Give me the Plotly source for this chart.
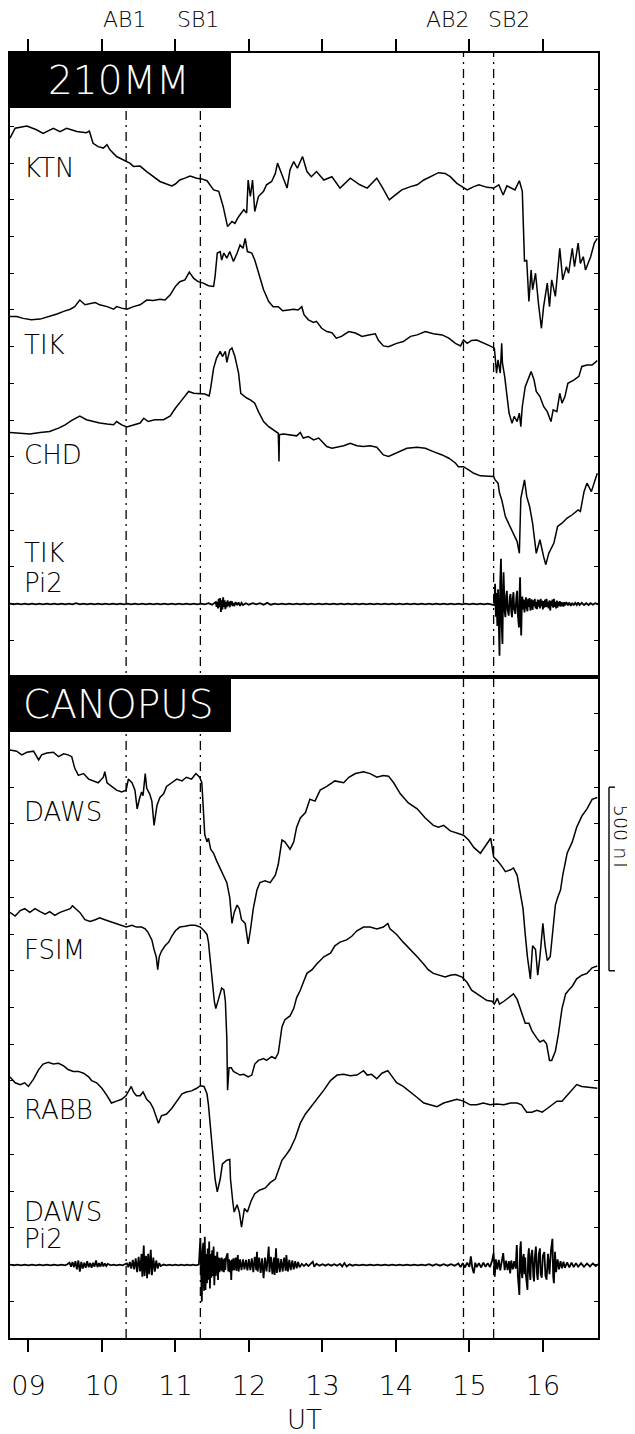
import plotly.graph_objects as go

# ---------------- data (UT hours, nT deflection) ----------------
HOURS = [9, 10, 11, 12, 13, 14, 15, 16]
HOUR_LABELS = ["09", "10", "11", "12", "13", "14", "15", "16"]
EVENT_NAMES = ["AB1", "SB1", "AB2", "SB2"]
EVENT_TIMES = [10.33, 11.34, 14.92, 15.33]

KTN = [(8.75,168),(8.82,195),(8.98,201),(9.11,191),(9.20,181),(9.34,195),(9.43,186),(9.52,195),(9.66,186),(9.79,183),(9.83,187),(9.88,154),(9.95,145),(10.02,141),(10.07,150),(10.11,136),(10.20,118),(10.29,109),(10.38,100),(10.43,91),(10.52,92),(10.61,77),(10.70,63),(10.79,50),(10.88,43),(10.95,38),(11.00,43),(11.06,54),(11.13,59),(11.20,65),(11.29,59),(11.36,57),(11.43,52),(11.52,27),(11.59,23),(11.65,-18),(11.71,-73),(11.77,-59),(11.81,-64),(11.86,-46),(11.93,-27),(11.97,-36),(11.99,54),(12.02,9),(12.05,54),(12.08,-32),(12.13,9),(12.20,23),(12.24,41),(12.31,50),(12.36,72),(12.39,100),(12.45,68),(12.52,32),(12.56,82),(12.61,104),(12.66,86),(12.73,118),(12.79,77),(12.85,63),(12.92,77),(13.02,54),(13.13,63),(13.24,32),(13.38,59),(13.51,41),(13.61,32),(13.74,59),(13.81,36),(13.91,0),(13.99,13),(14.08,27),(14.20,36),(14.29,41),(14.38,54),(14.47,63),(14.58,74),(14.67,72),(14.74,63),(14.83,45),(14.92,32),(14.97,27),(15.06,36),(15.13,41),(15.24,34),(15.33,32),(15.40,41),(15.46,13),(15.51,38),(15.58,32),(15.62,27),(15.68,52),(15.72,23),(15.75,-168),(15.78,-164),(15.81,-277),(15.84,-191),(15.86,-245),(15.90,-200),(15.94,-282),(15.98,-350),(16.01,-291),(16.06,-227),(16.09,-291),(16.12,-218),(16.17,-263),(16.23,-132),(16.27,-218),(16.32,-182),(16.35,-200),(16.40,-132),(16.43,-182),(16.48,-118),(16.51,-173),(16.55,-155),(16.58,-191),(16.65,-155),(16.70,-118),(16.74,-105)]

TIK = [(8.75,82),(8.84,82),(8.93,77),(9.04,73),(9.16,75),(9.29,82),(9.39,89),(9.48,96),(9.57,102),(9.63,109),(9.70,127),(9.77,114),(9.84,118),(9.91,120),(9.97,114),(10.07,109),(10.16,102),(10.20,109),(10.27,105),(10.34,102),(10.43,109),(10.52,114),(10.61,127),(10.70,126),(10.79,129),(10.86,127),(10.93,141),(11.00,164),(11.06,177),(11.13,182),(11.19,203),(11.25,186),(11.31,177),(11.38,173),(11.45,166),(11.52,164),(11.54,191),(11.57,255),(11.61,259),(11.63,236),(11.66,255),(11.70,241),(11.74,259),(11.79,232),(11.84,255),(11.88,277),(11.92,268),(11.95,295),(11.98,259),(12.04,255),(12.08,236),(12.13,200),(12.20,155),(12.27,123),(12.33,109),(12.40,109),(12.46,98),(12.54,100),(12.61,102),(12.67,100),(12.72,109),(12.75,87),(12.81,73),(12.88,66),(12.92,69),(12.99,50),(13.06,41),(13.13,38),(13.19,23),(13.26,28),(13.36,41),(13.45,37),(13.54,28),(13.63,32),(13.72,35),(13.76,18),(13.83,2),(13.90,0),(14.01,9),(14.10,14),(14.20,28),(14.29,32),(14.40,41),(14.51,35),(14.63,32),(14.72,23),(14.81,9),(14.88,2),(14.92,18),(14.97,9),(15.03,17),(15.10,18),(15.19,11),(15.28,2),(15.34,-4),(15.35,-27),(15.37,-72),(15.39,-36),(15.42,-72),(15.44,9),(15.45,-45),(15.48,-81),(15.51,-136),(15.54,-181),(15.58,-209),(15.61,-190),(15.65,-204),(15.68,-181),(15.70,-218),(15.72,-163),(15.76,-109),(15.81,-81),(15.84,-68),(15.88,-91),(15.91,-122),(15.96,-136),(16.01,-163),(16.06,-177),(16.11,-204),(16.14,-172),(16.19,-177),(16.23,-127),(16.26,-154),(16.30,-136),(16.34,-100),(16.42,-91),(16.49,-81),(16.53,-54),(16.60,-50),(16.67,-50),(16.74,-38)]

CHD = [(8.75,66),(8.89,64),(9.02,62),(9.16,66),(9.29,69),(9.41,78),(9.50,87),(9.59,99),(9.70,111),(9.79,101),(9.88,96),(9.97,92),(10.07,89),(10.16,87),(10.20,96),(10.27,87),(10.34,81),(10.43,87),(10.52,92),(10.57,105),(10.63,96),(10.72,101),(10.84,101),(10.93,111),(11.00,132),(11.09,155),(11.18,178),(11.25,173),(11.34,173),(11.40,171),(11.46,166),(11.48,187),(11.52,241),(11.56,269),(11.61,287),(11.64,273),(11.68,287),(11.70,257),(11.74,291),(11.77,296),(11.81,273),(11.86,228),(11.89,173),(11.93,166),(11.97,160),(12.02,155),(12.08,146),(12.13,123),(12.20,96),(12.27,82),(12.33,73),(12.40,64),(12.41,-13),(12.415,60),(12.47,62),(12.56,60),(12.65,57),(12.70,66),(12.74,51),(12.81,55),(12.88,46),(12.95,51),(12.99,42),(13.06,28),(13.13,23),(13.20,26),(13.29,30),(13.38,37),(13.47,30),(13.56,28),(13.65,30),(13.74,26),(13.83,5),(13.90,1),(14.01,10),(14.15,23),(14.29,26),(14.40,23),(14.51,14),(14.63,5),(14.72,-4),(14.81,-17),(14.85,-27),(14.92,-27),(14.99,-36),(15.06,-45),(15.15,-52),(15.24,-54),(15.33,-54),(15.35,-63),(15.39,-72),(15.41,-99),(15.44,-117),(15.49,-163),(15.55,-190),(15.60,-208),(15.65,-231),(15.68,-263),(15.70,-113),(15.75,-63),(15.78,-108),(15.82,-136),(15.86,-181),(15.91,-263),(15.96,-226),(16.01,-272),(16.04,-294),(16.08,-263),(16.15,-235),(16.20,-190),(16.26,-181),(16.33,-167),(16.40,-158),(16.48,-145),(16.51,-149),(16.56,-95),(16.60,-72),(16.66,-95),(16.70,-72),(16.74,-45)]

TIK_PI2 = [(8.75,1),(8.80,-1),(8.85,1),(8.90,-1),(8.95,1),(9.00,-1),(9.05,1),(9.10,-1),(9.15,1),(9.20,-1),(9.25,1),(9.30,-1),(9.35,1),(9.40,-1),(9.45,1),(9.50,-1),(9.55,1),(9.60,-1),(9.65,2),(9.70,-1),(9.75,1),(9.80,-1),(9.85,1),(9.90,-1),(9.95,1),(10.00,-1),(10.05,1),(10.10,-1),(10.15,1),(10.20,-1),(10.25,1),(10.30,-1),(10.35,1),(10.40,-1),(10.45,1),(10.50,-1),(10.55,1),(10.60,-1),(10.65,1),(10.70,-1),(10.75,1),(10.80,-1),(10.85,1),(10.90,-1),(10.95,1),(11.00,-1),(11.05,1),(11.10,-1),(11.15,1),(11.20,-1),(11.25,1),(11.30,-1),(11.35,1),(11.40,-1),(11.45,2),(11.50,-2),
    (11.55,5),(11.56,-8),(11.57,6),(11.58,-12),(11.59,14),(11.60,-9),(11.61,16),(11.62,-22),(11.63,10),(11.64,-15),(11.65,18),(11.66,-8),(11.67,10),(11.68,-14),(11.69,5),(11.70,-9),(11.71,10),(11.72,-5),(11.73,6),(11.74,-9),(11.75,8),(11.76,-4),(11.77,7),(11.78,-6),(11.79,3),(11.80,-6),(11.82,5),(11.84,-3),(11.86,4),(11.88,-5),(11.90,3),(11.92,-3),
    (11.96,2),(12.00,-2),(12.05,2),(12.10,-1),(12.15,2),(12.20,-2),(12.25,3),(12.30,-2),(12.35,1),(12.40,-1),(12.45,1),(12.50,-1),(12.55,1),(12.60,-1),(12.65,1),(12.70,-1),(12.75,1),(12.80,-1),(12.85,1),(12.90,-1),(12.95,1),(13.00,-1),(13.05,1),(13.10,-1),(13.15,1),(13.20,-1),(13.25,1),(13.30,-1),(13.35,1),(13.40,-1),(13.45,1),(13.50,-1),(13.55,1),(13.60,-1),(13.65,1),(13.70,-1),(13.75,1),(13.80,-1),(13.85,1),(13.90,-1),(13.95,1),(14.00,-1),(14.05,1),(14.10,-1),(14.15,1),(14.20,-1),(14.25,1),(14.30,-1),(14.35,1),(14.40,-1),(14.45,1),(14.50,-1),(14.55,1),(14.60,-1),(14.65,1),(14.70,-1),(14.75,1),(14.80,-1),(14.85,1),(14.90,-1),(14.95,1),(15.00,-1),(15.05,1),(15.10,-1),(15.15,1),(15.20,-1),(15.25,1),(15.30,-1),
    (15.34,-3),(15.35,55),(15.36,-35),(15.37,30),(15.38,-60),(15.39,40),(15.40,-100),(15.41,-141),(15.42,60),(15.43,123),(15.44,-60),(15.45,-109),(15.46,50),(15.465,86),(15.48,-20),(15.49,-36),(15.50,20),(15.51,36),(15.52,-15),(15.535,-32),(15.55,20),(15.56,27),(15.57,-20),(15.58,-36),(15.59,15),(15.60,32),(15.61,-15),(15.625,-27),(15.64,20),(15.65,36),(15.66,-30),(15.675,-64),(15.685,40),(15.69,73),(15.70,-50),(15.705,-86),(15.715,10),
    (15.72,20),(15.73,-15),(15.74,12),(15.75,-23),(15.76,8),(15.77,18),(15.78,-10),(15.79,-20),(15.80,14),(15.81,-8),(15.82,16),(15.83,-18),(15.84,6),(15.85,12),(15.86,-16),(15.87,10),(15.88,-6),(15.89,14),(15.90,-12),(15.91,5),(15.92,-14),(15.93,12),(15.94,-7),(15.95,10),(15.96,-12),(15.97,14),(15.98,-6),(15.99,9),(16.00,-15),(16.01,8),(16.02,-10),(16.03,12),(16.04,-8),(16.05,14),(16.06,-9),(16.07,6),(16.08,-12),(16.09,10),(16.10,-18),(16.11,8),(16.12,-6),(16.13,12),(16.14,-10),(16.15,14),(16.16,-8),(16.17,6),(16.18,-12),(16.19,9),(16.20,-10),(16.21,6),(16.22,-5),(16.23,8),(16.24,-7),(16.25,5),(16.26,-6),(16.27,4),(16.28,-7),(16.29,5),(16.30,-4),(16.32,5),(16.34,-4),(16.36,4),(16.38,-5),(16.40,3),(16.42,-4),(16.44,3),(16.46,-3),(16.48,4),(16.50,-3),(16.53,3),(16.56,-3),(16.59,2),(16.62,-3),(16.65,2),(16.68,-2),(16.71,2),(16.75,-1)]

DAWS = [(8.75,201),(8.84,198),(8.91,188),(8.98,195),(9.07,198),(9.14,174),(9.18,188),(9.25,193),(9.34,195),(9.41,183),(9.48,191),(9.54,188),(9.59,183),(9.63,152),(9.68,132),(9.75,137),(9.82,122),(9.88,117),(9.95,112),(10.02,127),(10.04,142),(10.07,112),(10.13,102),(10.20,92),(10.27,87),(10.33,92),(10.36,122),(10.41,112),(10.45,92),(10.48,41),(10.51,67),(10.54,87),(10.56,77),(10.59,137),(10.61,97),(10.65,82),(10.68,62),(10.71,-4),(10.75,51),(10.79,72),(10.84,82),(10.88,102),(10.95,112),(11.02,122),(11.09,117),(11.15,127),(11.22,122),(11.28,137),(11.33,127),(11.36,112),(11.38,41),(11.40,-29),(11.43,-49),(11.45,-39),(11.48,-69),(11.52,-80),(11.56,-100),(11.61,-120),(11.65,-140),(11.70,-160),(11.74,-201),(11.77,-271),(11.80,-241),(11.84,-221),(11.87,-231),(11.90,-261),(11.95,-271),(11.99,-327),(12.02,-291),(12.06,-231),(12.11,-180),(12.15,-160),(12.22,-155),(12.29,-160),(12.36,-140),(12.40,-110),(12.45,-44),(12.49,-49),(12.56,-69),(12.61,-49),(12.65,-9),(12.70,16),(12.77,31),(12.83,67),(12.90,62),(12.97,92),(13.06,102),(13.17,117),(13.29,112),(13.36,127),(13.45,137),(13.56,142),(13.65,137),(13.74,127),(13.83,132),(13.90,130),(13.97,112),(14.06,82),(14.17,57),(14.29,41),(14.40,16),(14.51,-4),(14.58,-9),(14.65,-4),(14.74,-19),(14.83,-24),(14.92,-31),(14.99,-44),(15.06,-64),(15.15,-80),(15.22,-59),(15.29,-39),(15.33,-90),(15.38,-100),(15.44,-115),(15.49,-130),(15.56,-125),(15.60,-120),(15.65,-140),(15.69,-190),(15.73,-231),(15.76,-301),(15.79,-362),(15.83,-422),(15.86,-332),(15.90,-342),(15.93,-412),(15.96,-362),(16.00,-271),(16.03,-332),(16.06,-372),(16.10,-362),(16.14,-281),(16.17,-221),(16.20,-201),(16.24,-180),(16.27,-140),(16.33,-80),(16.40,-49),(16.46,-9),(16.53,21),(16.60,41),(16.67,67),(16.74,72)]

FSIM = [(8.75,159),(8.82,149),(8.89,164),(8.95,169),(9.02,159),(9.09,169),(9.16,161),(9.23,154),(9.29,161),(9.36,151),(9.43,159),(9.50,164),(9.57,169),(9.60,177),(9.65,169),(9.70,159),(9.77,139),(9.84,134),(9.91,139),(9.97,144),(10.04,139),(10.11,134),(10.18,129),(10.25,124),(10.33,119),(10.41,124),(10.47,119),(10.54,119),(10.59,114),(10.63,104),(10.68,84),(10.71,58),(10.74,38),(10.76,3),(10.78,38),(10.81,53),(10.86,68),(10.91,78),(10.95,94),(11.00,109),(11.06,119),(11.13,121),(11.20,124),(11.27,124),(11.34,119),(11.39,109),(11.43,99),(11.45,78),(11.47,38),(11.49,-12),(11.53,-83),(11.55,-103),(11.59,-73),(11.63,-47),(11.66,-52),(11.68,-83),(11.70,-184),(11.71,-325),(11.73,-264),(11.76,-264),(11.79,-274),(11.84,-279),(11.88,-284),(11.93,-282),(11.99,-289),(12.04,-284),(12.08,-254),(12.13,-244),(12.20,-239),(12.24,-244),(12.31,-234),(12.36,-239),(12.40,-224),(12.45,-153),(12.49,-133),(12.56,-123),(12.61,-103),(12.65,-73),(12.70,-53),(12.74,-32),(12.79,-7),(12.86,3),(12.92,18),(13.02,38),(13.11,48),(13.17,68),(13.24,78),(13.33,84),(13.40,94),(13.47,109),(13.56,119),(13.65,119),(13.74,114),(13.83,119),(13.89,129),(13.92,114),(14.01,99),(14.10,78),(14.20,58),(14.29,38),(14.38,18),(14.44,3),(14.51,-7),(14.60,-12),(14.67,-17),(14.74,-12),(14.81,-10),(14.90,-17),(14.97,-32),(15.03,-53),(15.10,-63),(15.17,-73),(15.24,-81),(15.31,-83),(15.34,-91),(15.38,-75),(15.41,-91),(15.47,-83),(15.53,-73),(15.60,-63),(15.65,-78),(15.69,-103),(15.76,-143),(15.81,-143),(15.85,-163),(15.92,-184),(15.96,-194),(16.01,-189),(16.05,-199),(16.09,-244),(16.12,-244),(16.17,-219),(16.21,-174),(16.26,-103),(16.31,-63),(16.35,-53),(16.40,-42),(16.46,-22),(16.53,-12),(16.60,-7),(16.67,8),(16.74,13)]

RABB = [(8.75,111),(8.82,95),(8.89,90),(8.95,95),(9.00,85),(9.07,105),(9.14,131),(9.20,146),(9.27,151),(9.34,146),(9.41,148),(9.48,141),(9.54,131),(9.61,126),(9.68,126),(9.75,121),(9.82,111),(9.86,101),(9.93,95),(10.00,80),(10.07,60),(10.13,40),(10.20,45),(10.27,50),(10.33,60),(10.36,70),(10.40,85),(10.43,70),(10.47,60),(10.52,60),(10.56,70),(10.61,50),(10.66,40),(10.70,25),(10.74,5),(10.77,-15),(10.81,5),(10.88,10),(10.95,25),(11.02,45),(11.09,65),(11.15,70),(11.22,73),(11.29,80),(11.34,87),(11.39,85),(11.43,65),(11.45,35),(11.47,-15),(11.49,-66),(11.52,-126),(11.54,-167),(11.57,-202),(11.61,-167),(11.64,-126),(11.70,-116),(11.74,-114),(11.75,-167),(11.78,-227),(11.80,-257),(11.84,-237),(11.87,-257),(11.90,-298),(11.94,-247),(11.98,-257),(12.03,-227),(12.08,-207),(12.15,-197),(12.22,-192),(12.29,-177),(12.36,-167),(12.40,-146),(12.45,-116),(12.49,-106),(12.56,-86),(12.63,-56),(12.70,-15),(12.77,10),(12.83,25),(12.90,45),(12.97,60),(13.02,75),(13.11,101),(13.20,116),(13.29,118),(13.38,114),(13.47,116),(13.56,128),(13.61,116),(13.67,118),(13.74,106),(13.81,121),(13.89,128),(13.95,111),(14.01,95),(14.10,85),(14.20,70),(14.29,55),(14.38,40),(14.47,35),(14.56,30),(14.65,40),(14.74,45),(14.83,50),(14.92,45),(15.01,35),(15.10,35),(15.19,40),(15.28,35),(15.37,37),(15.47,35),(15.56,40),(15.65,40),(15.71,35),(15.78,15),(15.85,15),(15.92,20),(15.99,15),(16.06,25),(16.12,35),(16.19,45),(16.26,45),(16.33,60),(16.40,75),(16.46,90),(16.53,85),(16.60,83),(16.67,80),(16.74,80)]

DAWS_PI2 = [(8.75,1),(8.80,-1),(8.85,1),(8.90,-1),(8.95,1),(9.00,-1),(9.05,1),(9.10,-1),(9.15,1),(9.20,-1),(9.25,1),(9.30,-1),(9.35,1),(9.40,-1),(9.45,1),(9.50,-1),(9.53,2),
    (9.56,6),(9.58,-5),(9.60,8),(9.62,-6),(9.64,10),(9.66,-12),(9.68,12),(9.70,-18),(9.72,8),(9.74,-10),(9.76,6),(9.78,-8),(9.80,10),(9.82,-6),(9.84,5),(9.86,-8),(9.88,6),(9.90,-5),(9.92,12),(9.94,-6),(9.96,5),(9.98,-5),(10.00,8),(10.02,-4),(10.04,4),(10.06,-3),(10.08,3),
    (10.12,-1),(10.16,1),(10.20,-1),(10.24,1),(10.28,-1),(10.31,1),
    (10.34,4),(10.36,-6),(10.38,8),(10.40,-10),(10.42,14),(10.44,-12),(10.46,18),(10.48,-20),(10.50,22),(10.52,-18),(10.54,30),(10.55,-32),(10.57,53),(10.58,-30),(10.60,25),(10.615,-36),(10.63,30),(10.645,-25),(10.665,41),(10.68,-28),(10.70,20),(10.72,-18),(10.74,12),(10.76,-10),(10.78,5),(10.80,-3),
    (10.84,1),(10.88,-1),(10.92,1),(10.96,-1),(11.00,1),(11.04,-1),(11.08,1),(11.12,-1),(11.16,1),(11.20,-1),(11.24,1),(11.28,-1),(11.32,1),
    (11.34,73),(11.35,-60),(11.36,-100),(11.37,40),(11.38,60),(11.39,-70),(11.40,77),(11.41,-68),(11.42,30),(11.43,-50),(11.44,45),(11.45,-40),(11.46,64),(11.47,-64),(11.48,30),(11.49,-35),(11.50,40),(11.51,-30),(11.52,50),(11.53,-55),(11.54,25),(11.55,-30),(11.56,20),(11.57,36),(11.58,-41),(11.59,20),(11.60,-20),(11.61,18),(11.62,-15),(11.63,20),(11.64,-18),(11.65,15),(11.66,-20),(11.67,18),(11.68,-14),(11.69,20),(11.71,32),(11.72,-18),(11.73,15),(11.74,-20),(11.75,12),(11.76,-41),(11.77,15),(11.78,-15),(11.79,18),(11.80,-14),(11.82,20),(11.83,-16),(11.85,27),(11.86,-18),(11.88,15),(11.90,-14),(11.92,15),(11.94,-12),(11.96,14),(11.98,-15),(12.00,16),(12.02,-14),(12.04,18),(12.06,-20),(12.08,22),(12.10,-14),(12.11,36),(12.12,-18),(12.14,20),(12.16,-22),(12.18,18),(12.20,-36),(12.22,20),(12.24,-18),(12.26,25),(12.27,50),(12.28,-20),(12.30,22),(12.32,-25),(12.34,20),(12.35,-27),(12.37,45),(12.38,-22),(12.40,18),(12.42,-20),(12.44,16),(12.46,-18),(12.48,20),(12.50,-16),(12.51,27),(12.53,-18),(12.55,14),(12.57,-14),(12.59,12),(12.61,-12),(12.63,10),(12.65,-9),(12.67,8),(12.69,-6),
    (12.72,3),(12.75,-3),(12.78,3),(12.81,-3),(12.84,4),(12.87,9),(12.89,-5),(12.92,3),(12.96,-2),(13.00,2),(13.04,-2),(13.08,2),(13.12,-2),(13.16,2),(13.20,-2),(13.24,3),(13.27,-4),(13.30,5),(13.33,-4),(13.37,2),(13.41,-2),(13.45,1),(13.50,-1),(13.55,1),(13.60,-1),(13.65,1),(13.70,-1),(13.75,1),(13.80,-1),(13.85,1),(13.90,-1),(13.95,1),(14.00,-1),(14.05,1),(14.10,-1),(14.15,1),(14.20,-1),(14.25,1),(14.30,-1),(14.35,1),(14.40,-1),(14.45,2),(14.50,-2),(14.55,2),(14.60,-2),(14.65,2),(14.70,-2),(14.75,2),(14.80,-2),
    (14.85,4),(14.88,-6),(14.91,5),(14.94,-7),(14.97,6),(15.00,-5),(15.02,23),(15.04,-8),(15.06,-23),(15.08,6),(15.10,-6),(15.13,5),(15.16,-7),(15.19,6),(15.22,-5),(15.25,5),(15.28,-6),
    (15.31,12),(15.33,32),(15.345,-32),(15.36,15),(15.38,-12),(15.40,14),(15.42,-15),(15.44,12),(15.46,32),(15.48,-14),(15.50,12),(15.52,-14),(15.54,10),(15.555,-23),(15.57,12),(15.59,-12),(15.61,10),(15.63,-10),
    (15.645,54),(15.66,-30),(15.68,-82),(15.69,40),(15.70,64),(15.71,-20),(15.72,-36),(15.73,20),(15.74,30),(15.75,-25),(15.76,20),(15.77,-30),(15.79,-68),(15.80,25),(15.81,45),(15.82,-20),(15.83,-41),(15.84,25),(15.855,41),(15.87,-30),(15.88,-45),(15.89,20),(15.905,50),(15.92,-25),(15.93,-41),(15.945,30),(15.96,45),(15.97,-25),(15.985,-35),(16.00,25),(16.02,35),(16.035,-30),(16.05,-40),(16.07,30),(16.09,-25),(16.11,40),(16.13,71),(16.14,-30),(16.15,-50),(16.165,36),(16.18,-20),(16.20,15),(16.22,-12),(16.24,10),(16.26,-9),(16.28,9),(16.30,-8),(16.33,7),(16.36,-7),(16.39,6),(16.42,-6),(16.45,5),(16.48,-5),(16.52,5),(16.56,-5),(16.60,4),(16.64,-4),(16.68,4),(16.72,-3),(16.75,2)]

# stacking offsets (nT) of each trace within its panel
TOP_TRACES = [("KTN", KTN, 1300), ("TIK", TIK, 900), ("CHD", CHD, 600), ("TIK Pi2", TIK_PI2, 199)]
BOT_TRACES = [("DAWS", DAWS, 1400), ("FSIM", FSIM, 1000), ("RABB", RABB, 600), ("DAWS Pi2", DAWS_PI2, 199)]

FONT = "DejaVu Sans"
# the page body adds an 8 px margin, so the figure is 8 px smaller than the window
PAGE_PAD = 8
W, H = 635 - PAGE_PAD, 1434 - PAGE_PAD
ML, MT = 10 - PAGE_PAD, 53 - PAGE_PAD
PW, PH = 588, 1285                          # plot area
MR, MB = W - ML - PW, H - MT - PH
BOT_FRAC = 661 / PH

fig = go.Figure()

def add_traces(traces, xa, ya):
    for name, pairs, off in traces:
        t = [p[0] for p in pairs]
        v = [p[1] + off for p in pairs]
        fig.add_trace(go.Scatter(x=t, y=v, mode="lines", name=name, xaxis=xa, yaxis=ya,
                                 line=dict(color="black", width=1.8 if "Pi2" in name else 1.5),
                                 showlegend=False, hoverinfo="skip"))

add_traces(TOP_TRACES, "x2", "y2")
add_traces(BOT_TRACES, "x", "y")

# event markers (triangles) above the top frame
fig.add_trace(go.Scatter(x=EVENT_TIMES, y=[1730] * len(EVENT_TIMES), mode="markers",
                         xaxis="x2", yaxis="y2", cliponaxis=False,
                         marker=dict(symbol="triangle-down", size=9, color="black"),
                         showlegend=False, hoverinfo="skip"))

axis_common = dict(showgrid=False, zeroline=False, showline=True, linecolor="black",
                   linewidth=1.5, automargin=False)

fig.update_layout(
    width=W, height=H, margin=dict(l=ML, r=MR, t=MT, b=MB, autoexpand=False),
    paper_bgcolor="white", plot_bgcolor="white",
    font=dict(family=FONT, color="black", size=22, weight=200),
    xaxis=dict(domain=[0, 1], anchor="y", range=[8.75, 16.75], tickmode="array",
               tickvals=HOURS, ticktext=HOUR_LABELS, ticks="outside", ticklen=12, tickwidth=1.5,
               tickcolor="black", mirror=True, ticklabelstandoff=11,
               tickfont=dict(size=27, family=FONT, weight=200), **axis_common),
    xaxis2=dict(domain=[0, 1], anchor="y2", matches="x", range=[8.75, 16.75], side="top",
                tickmode="array", tickvals=HOURS, ticks="outside", ticklen=12, tickwidth=1.5,
                tickcolor="black", showticklabels=False, mirror=True, **axis_common),
    yaxis=dict(domain=[0, BOT_FRAC], anchor="x", range=[0, 1800], tick0=0, dtick=100,
               ticks="inside", ticklen=4, tickwidth=1.2, tickcolor="black",
               showticklabels=False, mirror="ticks", **axis_common),
    yaxis2=dict(domain=[BOT_FRAC, 1], anchor="x2", range=[0, 1700], tick0=0, dtick=100,
                ticks="inside", ticklen=4, tickwidth=1.2, tickcolor="black",
                showticklabels=False, mirror="ticks", **axis_common),
)

shapes = []
for t in EVENT_TIMES:
    shapes.append(dict(type="line", xref="x", yref="paper", x0=t, x1=t, y0=0, y1=1,
                       line=dict(color="black", width=1.3, dash="9px,5px,2px,5px")))
# panel title boxes
shapes.append(dict(type="rect", xref="paper", yref="paper", x0=0, x1=221 / PW,
                   y0=1 - 55 / PH, y1=1, fillcolor="black", line=dict(width=0), layer="above"))
shapes.append(dict(type="rect", xref="paper", yref="paper", x0=0, x1=221 / PW,
                   y0=BOT_FRAC - 55 / PH, y1=BOT_FRAC, fillcolor="black", line=dict(width=0),
                   layer="above"))
# 500 nT scale bar (bottom panel units)
bx0, bx1 = 599 / PW, 605 / PW
for seg in [(bx1, 1500, bx0, 1500), (bx0, 1500, bx0, 1000), (bx0, 1000, bx1, 1000)]:
    shapes.append(dict(type="line", xref="paper", yref="y", x0=seg[0], y0=seg[1], x1=seg[2], y1=seg[3],
                       line=dict(color="black", width=1.4)))
fig.update_layout(shapes=shapes)

ann = []
label_shift = {"AB1": -2, "SB1": -2, "AB2": -16, "SB2": 15}
for name, t in zip(EVENT_NAMES, EVENT_TIMES):
    ann.append(dict(text=name, x=t, xref="x", y=1, yref="paper", yshift=34,
                    xshift=label_shift[name], showarrow=False,
                    xanchor="center", yanchor="middle", font=dict(size=22)))
ann.append(dict(text="210MM", x=109 / PW, xref="paper", y=1 - 27.5 / PH, yref="paper",
                showarrow=False, xanchor="center", yanchor="middle",
                font=dict(size=39, color="white")))
ann.append(dict(text="CANOPUS", x=108 / PW, xref="paper", y=BOT_FRAC - 27.5 / PH, yref="paper",
                showarrow=False, xanchor="center", yanchor="middle",
                font=dict(size=39, color="white")))
lab_x = 12 / PW
for text, y in [("KTN", 1387), ("TIK", 905), ("CHD", 605), ("TIK", 338), ("Pi2", 256)]:
    ann.append(dict(text=text, x=lab_x, xref="paper", y=y, yref="y2", showarrow=False,
                    xanchor="left", yanchor="middle", font=dict(size=26)))
for text, y in [("DAWS", 1433), ("FSIM", 1057), ("RABB", 621), ("DAWS", 343), ("Pi2", 270)]:
    ann.append(dict(text=text, x=lab_x, xref="paper", y=y, yref="y", showarrow=False,
                    xanchor="left", yanchor="middle", font=dict(size=26)))
# rotated scale-bar label right of the bracket
ann.append(dict(text="500 nT", x=611 / PW, xref="paper", y=1362, yref="y", showarrow=False,
                textangle=90, xanchor="center", yanchor="middle", font=dict(size=19)))
ann.append(dict(text="UT", x=0.5, xref="paper", y=-82 / PH, yref="paper", showarrow=False,
                xanchor="center", yanchor="middle", font=dict(size=26)))
fig.update_layout(annotations=ann)

fig.write_html("out.html")
